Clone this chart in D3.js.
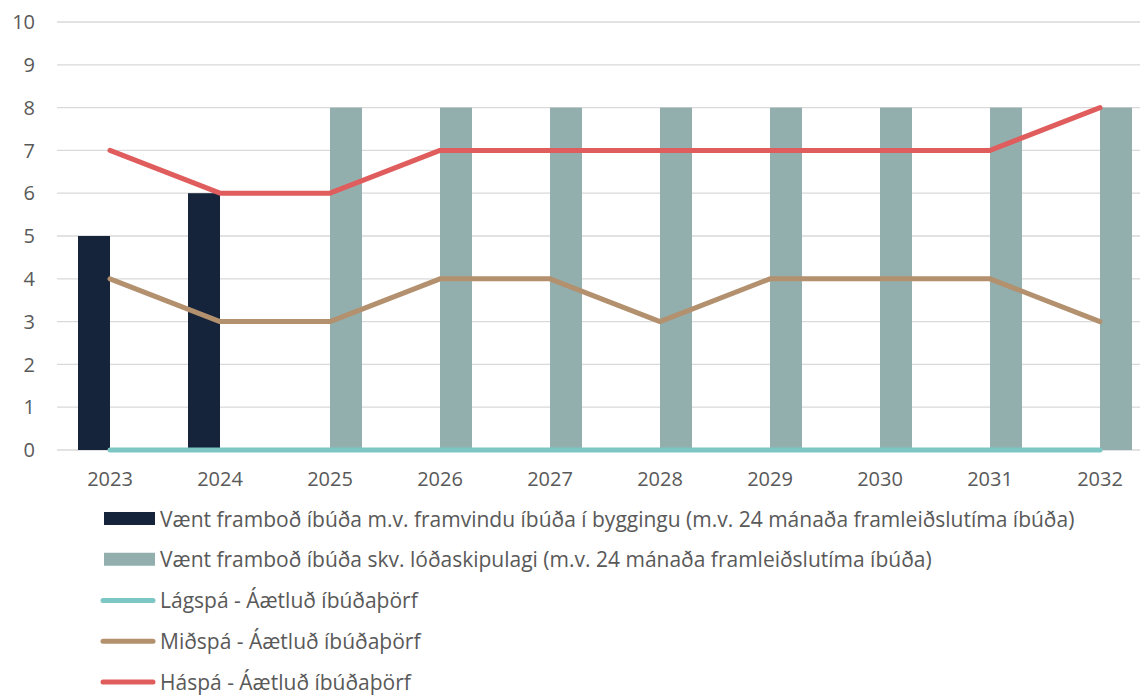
<!DOCTYPE html>
<html lang="is">
<head>
<meta charset="UTF-8">
<title>Íbúðaþörf og framboð</title>
<style>
    body { margin: 0; background: #fff; }
    svg text { font-family: "Open Sans", sans-serif; fill: #595959; }
</style>
</head>
<body>
<svg id="chart" width="1140" height="695"></svg>
<script src="https://cdn.jsdelivr.net/npm/d3@7"></script>
<script>
    const years = ["2023", "2024", "2025", "2026", "2027", "2028", "2029", "2030", "2031", "2032"];
    const yTicks = [0, 1, 2, 3, 4, 5, 6, 7, 8, 9, 10];

    // bars
    const underConstruction = [5, 6, 0, 0, 0, 0, 0, 0, 0, 0];
    const plannedLots = [0, 0, 8, 8, 8, 8, 8, 8, 8, 8];

    // lines
    const lowForecast = [0, 0, 0, 0, 0, 0, 0, 0, 0, 0];
    const midForecast = [4, 3, 3, 4, 4, 3, 4, 4, 4, 3];
    const highForecast = [7, 6, 6, 7, 7, 7, 7, 7, 7, 8];

    const barSeries = [
        { name: "Vænt framboð íbúða m.v. framvindu íbúða í byggingu (m.v. 24 mánaða framleiðslutíma íbúða)", values: underConstruction, color: "#15233b" },
        { name: "Vænt framboð íbúða skv. lóðaskipulagi (m.v. 24 mánaða framleiðslutíma íbúða)", values: plannedLots, color: "#92afae" }
    ];
    const lineSeries = [
        { name: "Lágspá - Áætluð íbúðaþörf", values: lowForecast, color: "#7cc6c3" },
        { name: "Miðspá - Áætluð íbúðaþörf", values: midForecast, color: "#b3906e" },
        { name: "Háspá - Áætluð íbúðaþörf", values: highForecast, color: "#e05d5d" }
    ];

    const svg = d3.select("#chart");

    const x = d3.scaleBand().domain(years).range([55, 1155]);
    const y = d3.scaleLinear().domain([0, 10]).range([450, 22]);
    const barW = 32;

    // gridlines
    svg.append("g")
        .selectAll("line")
        .data(yTicks)
        .join("line")
        .attr("x1", 57).attr("x2", 1140)
        .attr("y1", d => y(d)).attr("y2", d => y(d))
        .attr("stroke", "#d9d9d9")
        .attr("stroke-width", 1.3);

    // y labels
    svg.append("g")
        .selectAll("text")
        .data(yTicks)
        .join("text")
        .attr("x", 35)
        .attr("y", d => y(d))
        .attr("dy", "0.36em")
        .attr("text-anchor", "end")
        .style("font-size", "20px")
        .text(d => d);

    // x labels
    svg.append("g")
        .selectAll("text")
        .data(years)
        .join("text")
        .attr("x", d => x(d) + x.bandwidth() / 2)
        .attr("y", 486)
        .attr("text-anchor", "middle")
        .style("font-size", "20px")
        .text(d => d);

    // bars: first series left of the centre, second right of it
    barSeries.forEach((s, i) => {
        svg.append("g")
            .selectAll("rect")
            .data(years.map((yr, j) => ({ yr, v: s.values[j] })).filter(d => d.v > 0))
            .join("rect")
            .attr("x", d => x(d.yr) + x.bandwidth() / 2 + (i === 0 ? -barW : 0))
            .attr("y", d => y(d.v))
            .attr("width", barW)
            .attr("height", d => y(0) - y(d.v))
            .attr("fill", s.color);
    });

    const line = d3.line()
        .x((d, i) => x(years[i]) + x.bandwidth() / 2)
        .y(d => y(d));

    lineSeries.forEach(s => {
        svg.append("path")
            .datum(s.values)
            .attr("d", line)
            .attr("fill", "none")
            .attr("stroke", s.color)
            .attr("stroke-width", 5)
            .attr("stroke-linejoin", "round")
            .attr("stroke-linecap", "round");
    });

    // legend
    const legend = svg.append("g");
    const rowY = d3.scalePoint()
        .domain(d3.range(5))
        .range([519, 682]);

    barSeries.forEach((s, i) => {
        legend.append("rect")
            .attr("x", 104).attr("y", rowY(i) - 7)
            .attr("width", 51).attr("height", 13)
            .attr("fill", s.color);
        legend.append("text")
            .attr("x", 160).attr("y", rowY(i))
            .attr("dy", "0.36em")
            .style("font-size", "21px")
            .text(s.name);
    });
    lineSeries.forEach((s, k) => {
        const i = k + 2;
        legend.append("line")
            .attr("x1", 103).attr("x2", 153)
            .attr("y1", rowY(i)).attr("y2", rowY(i))
            .attr("stroke", s.color)
            .attr("stroke-width", 5)
            .attr("stroke-linecap", "round");
        legend.append("text")
            .attr("x", 160).attr("y", rowY(i))
            .attr("dy", "0.36em")
            .style("font-size", "21px")
            .text(s.name);
    });
</script>
</body>
</html>
